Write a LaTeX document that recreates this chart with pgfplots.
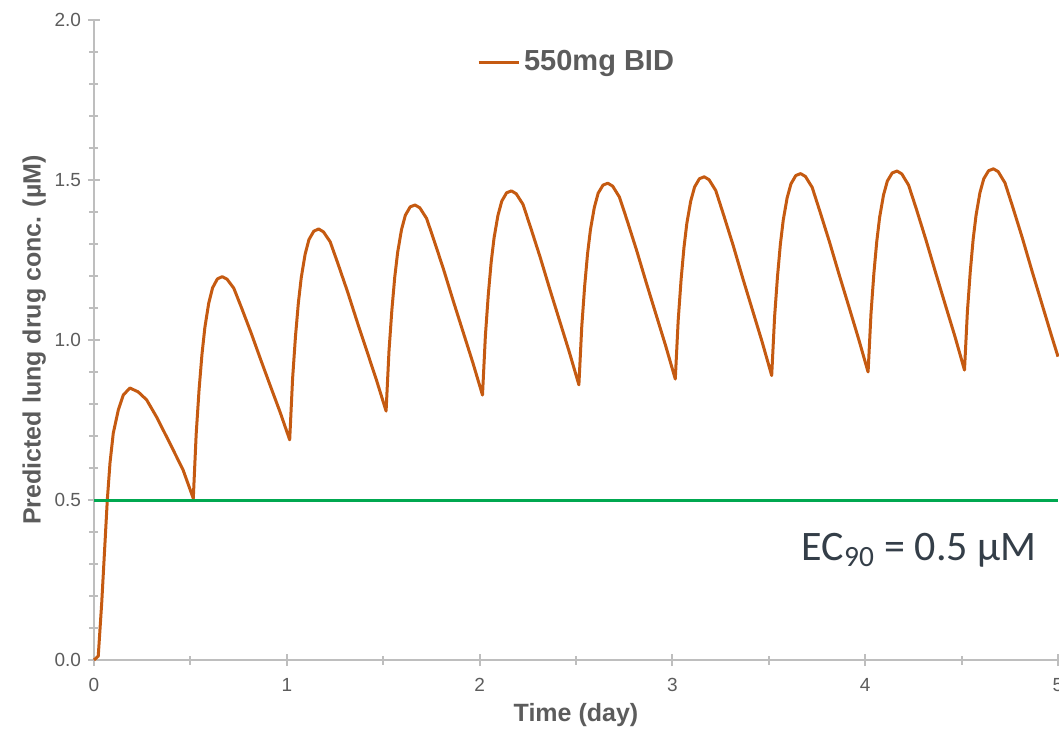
\documentclass[border=0pt]{standalone}
\usepackage{pgfplots}
\pgfplotsset{compat=1.18}
\usepackage{pgfplotstable}
\usepackage{fontspec}
\setmainfont{Liberation Sans}
\newfontfamily\calibri{Carlito}

\definecolor{doseorange}{RGB}{197,90,17}
\definecolor{ecgreen}{RGB}{0,168,80}
\definecolor{axisgray}{RGB}{190,190,190}
\definecolor{labelgray}{RGB}{92,92,92}
\definecolor{ecslate}{RGB}{52,62,72}

% predicted lung concentration, 550 mg BID
\pgfplotstableread{
t conc
0.000 0.000
0.022 0.012
0.040 0.178
0.057 0.366
0.069 0.500
0.083 0.616
0.100 0.709
0.126 0.781
0.152 0.828
0.186 0.850
0.229 0.838
0.273 0.813
0.325 0.759
0.393 0.678
0.462 0.594
0.515 0.505
0.530 0.706
0.545 0.845
0.560 0.955
0.575 1.039
0.595 1.115
0.615 1.163
0.640 1.191
0.665 1.198
0.690 1.190
0.725 1.162
0.765 1.101
0.815 1.022
0.865 0.938
0.915 0.856
0.965 0.775
1.015 0.688
1.030 0.879
1.045 1.011
1.060 1.116
1.075 1.195
1.095 1.268
1.115 1.314
1.140 1.340
1.165 1.347
1.190 1.338
1.225 1.307
1.265 1.239
1.315 1.151
1.365 1.057
1.415 0.966
1.465 0.875
1.515 0.778
1.530 0.965
1.545 1.094
1.560 1.197
1.575 1.274
1.595 1.345
1.615 1.390
1.640 1.416
1.665 1.422
1.690 1.413
1.725 1.380
1.765 1.309
1.815 1.217
1.865 1.119
1.915 1.024
1.965 0.929
2.015 0.828
2.030 1.013
2.045 1.141
2.060 1.243
2.075 1.319
2.095 1.389
2.115 1.434
2.140 1.460
2.165 1.466
2.190 1.457
2.225 1.424
2.265 1.351
2.315 1.257
2.365 1.157
2.415 1.060
2.465 0.963
2.515 0.860
2.530 1.043
2.545 1.169
2.560 1.270
2.575 1.345
2.595 1.414
2.615 1.459
2.640 1.484
2.665 1.490
2.690 1.481
2.725 1.447
2.765 1.374
2.815 1.279
2.865 1.178
2.915 1.080
2.965 0.982
3.015 0.878
3.030 1.061
3.045 1.188
3.060 1.289
3.075 1.365
3.095 1.434
3.115 1.478
3.140 1.504
3.165 1.510
3.190 1.501
3.225 1.467
3.265 1.392
3.315 1.296
3.365 1.193
3.415 1.094
3.465 0.995
3.515 0.889
3.530 1.072
3.545 1.198
3.560 1.299
3.575 1.375
3.595 1.444
3.615 1.488
3.640 1.514
3.665 1.520
3.690 1.511
3.725 1.477
3.765 1.402
3.815 1.306
3.865 1.204
3.915 1.105
3.965 1.005
4.015 0.900
4.030 1.082
4.045 1.208
4.060 1.308
4.075 1.384
4.095 1.453
4.115 1.497
4.140 1.522
4.165 1.528
4.190 1.519
4.225 1.484
4.265 1.410
4.315 1.313
4.365 1.211
4.415 1.111
4.465 1.012
4.515 0.906
4.530 1.088
4.545 1.214
4.560 1.315
4.575 1.390
4.595 1.460
4.615 1.504
4.640 1.529
4.665 1.535
4.690 1.526
4.725 1.491
4.765 1.416
4.815 1.319
4.865 1.216
4.915 1.116
4.965 1.016
5.000 0.948
}\conc

\begin{document}
\begin{tikzpicture}
\begin{axis}[
    scale only axis,
    width=482pt, height=320pt,
    xmin=0, xmax=5, ymin=0, ymax=2,
    axis x line=bottom, axis y line=left,
    axis line style={-, draw=axisgray, line width=1pt},
    xtick={0,1,2,3,4,5},
    minor xtick={0.5,1.5,2.5,3.5,4.5},
    ytick={0,0.5,1,1.5,2},
    minor y tick num=4,
    tick align=center,
    major tick length=6pt, minor tick length=4.5pt,
    tick style={draw=axisgray, line width=1pt},
    /pgf/number format/assume math mode=true,
    tick label style={font=\fontsize{9.5}{11}\selectfont, text=labelgray},
    xticklabel style={yshift=-2.5pt},
    yticklabel style={/pgf/number format/.cd, fixed, fixed zerofill, precision=1},
    xlabel={Time (day)},
    ylabel={Predicted lung drug conc. (µM)},
    label style={font=\bfseries\fontsize{12.5}{14}\selectfont, text=labelgray},
    x label style={at={(axis description cs:0.5,-0.086)}, anchor=center},
    y label style={at={(axis description cs:-0.062,0.5)}, anchor=center},
    legend style={at={(axis description cs:0.397,0.934)}, anchor=west,
        draw=none, fill=none, inner sep=0pt,
        font=\bfseries\fontsize{14.5}{16}\selectfont, text=labelgray},
    legend image code/.code={\draw[#1] (0pt,0pt) -- (20pt,0pt);},
    clip=false,
]
\addplot[doseorange, line width=1.5pt, line join=round] table[x=t, y=conc] {\conc};
\addlegendentry{550mg BID}
\addplot[ecgreen, line width=1.5pt, forget plot] coordinates {(0,0.5) (5,0.5)};
\node[text=ecslate, font=\calibri\fontsize{21}{24}\selectfont] at (axis cs:4.28,0.344)
    {EC\textsubscript{90} = 0.5 µM};
\end{axis}
\pgfresetboundingbox
\path (-47pt,-34.5pt) rectangle (482.5pt,330pt);
\end{tikzpicture}
\end{document}
